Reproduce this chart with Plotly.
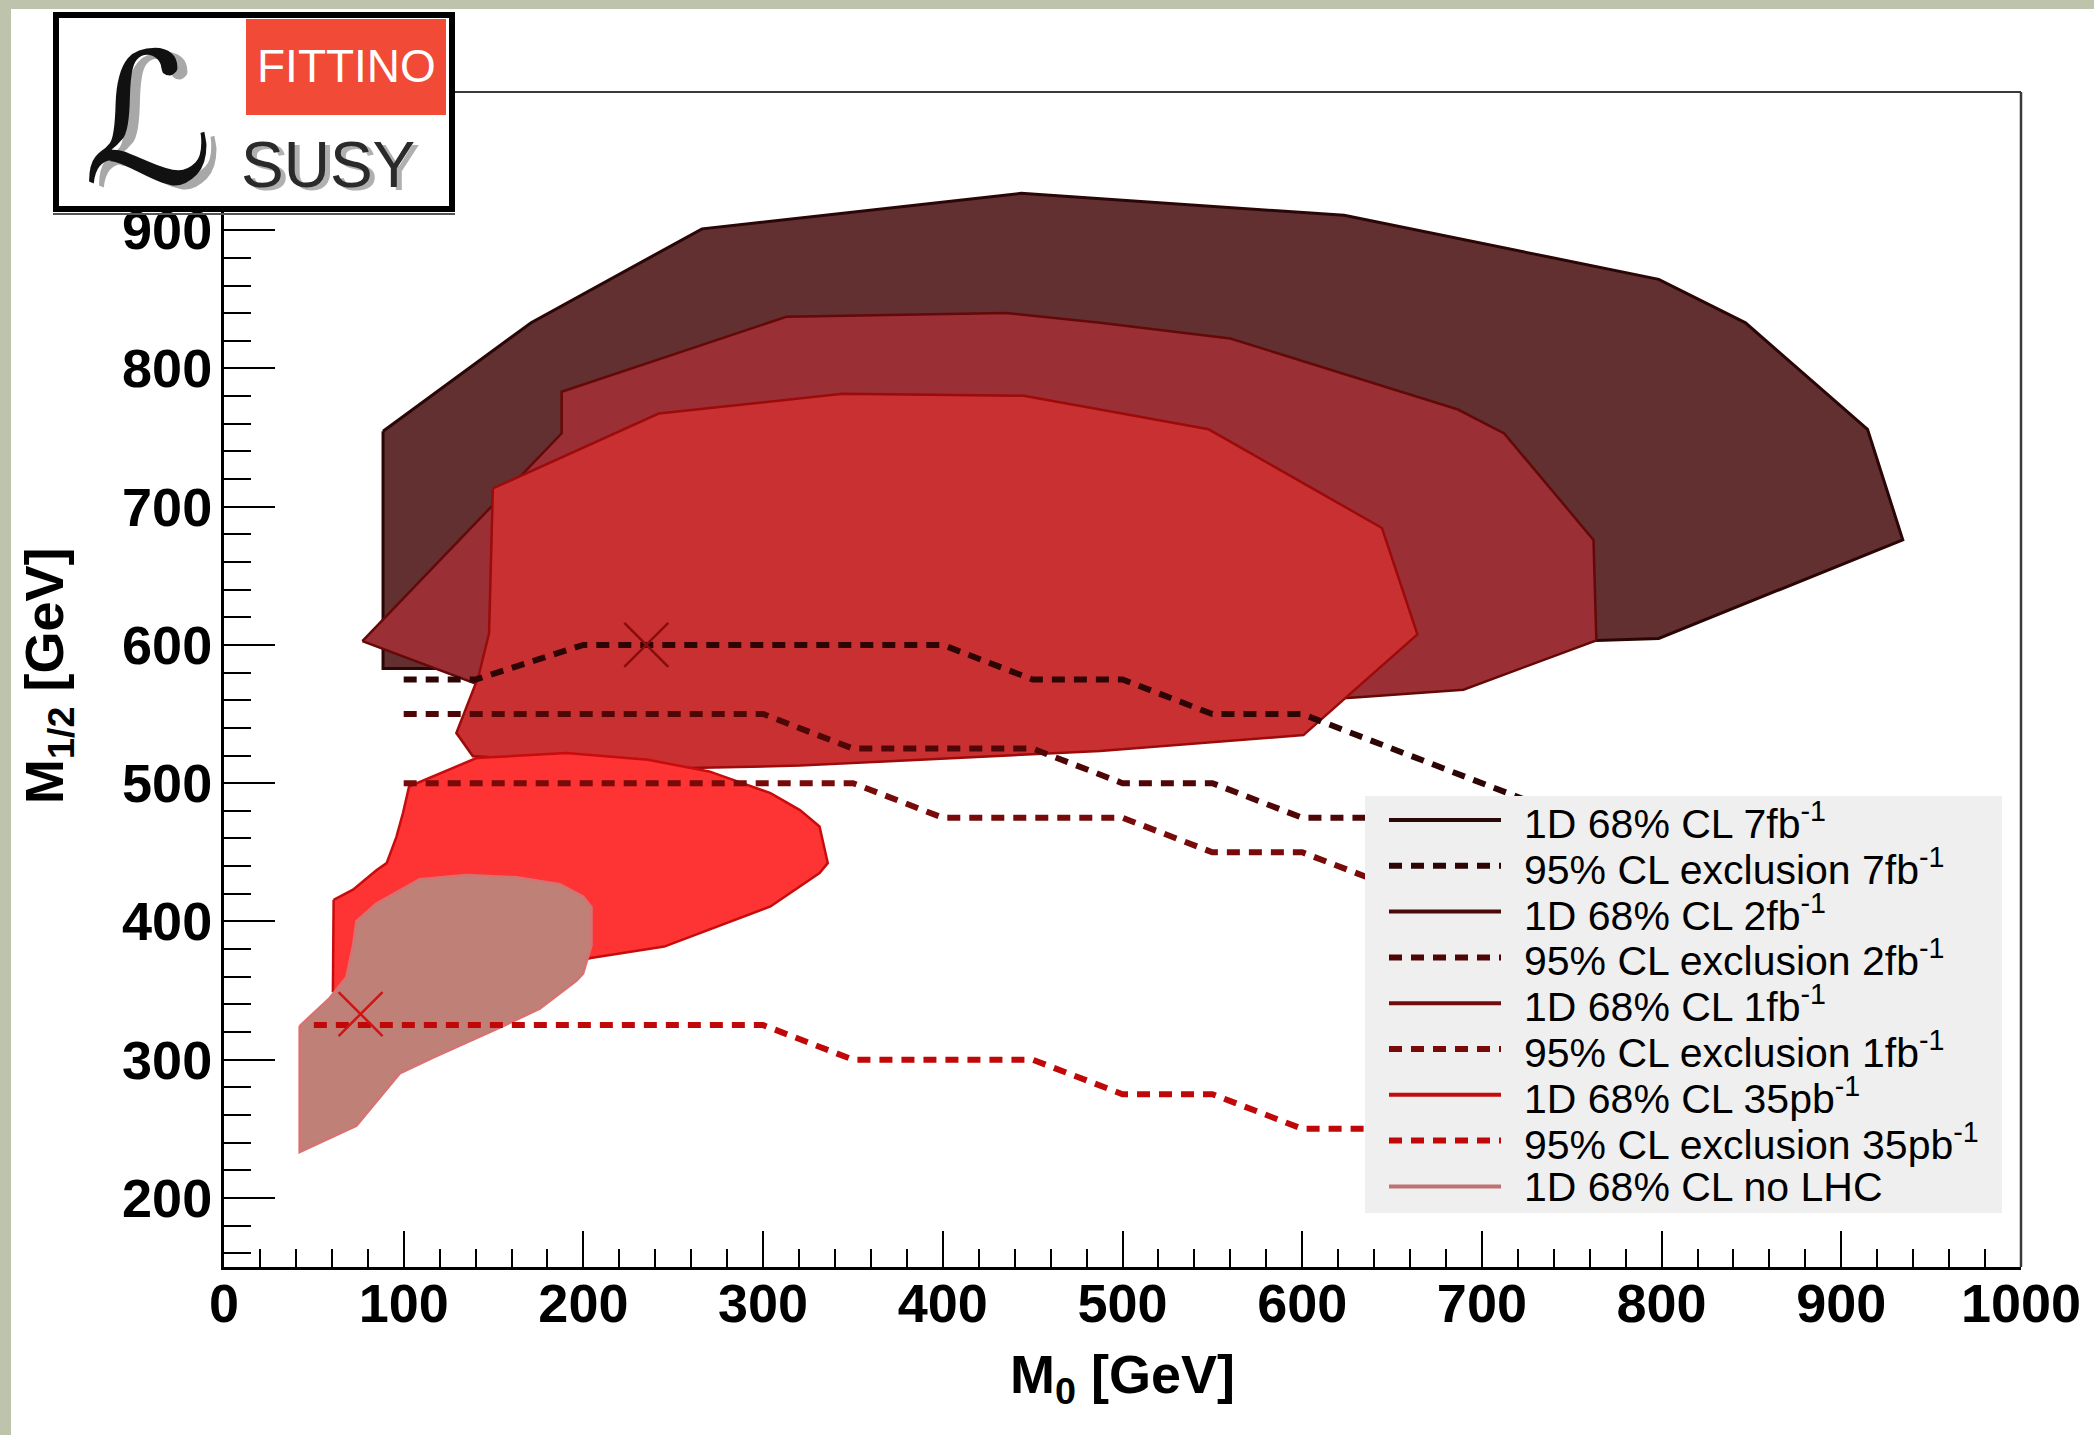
import plotly.graph_objects as go

# ---------------- data (M0, M1/2 in GeV) ----------------
cl68_7fb_m0 = [88.5, 88.5, 140, 400, 640, 700, 763.7, 798.4, 934.2, 914.6, 846.7, 798.4, 623.3, 487.5, 443.6, 266.0, 170.9]
cl68_7fb_m12 = [754.6, 583, 583, 580, 575, 590, 603.3, 604.7, 676.0, 756.0, 833.0, 864.5, 910.8, 923.0, 926.7, 901.0, 833.1]

cl68_2fb_m0 = [77.0, 187.9, 187.9, 312.9, 435.1, 487.5, 560.0, 686.7, 712.4, 762.1, 763.7, 689.7, 629.3, 400, 160, 140.0]
cl68_2fb_m12 = [602.8, 753.1, 783.2, 837.4, 840.2, 833.0, 821.7, 770.3, 753.0, 676.0, 603.3, 567.6, 561.9, 545, 545, 572.0]

cl68_1fb_m0 = [149.6, 241.9, 344.2, 445.0, 487.5, 547.9, 644.4, 664.1, 600.7, 487.5, 320.5, 258.7, 138.5, 129.3, 141.6, 147.5]
cl68_1fb_m12 = [713.2, 767.4, 781.7, 780.3, 770.3, 756.0, 684.6, 607.6, 534.8, 523.3, 512.7, 511.0, 519.5, 536.3, 577.2, 608.5]

cl68_35pb_m0 = [61.0, 71.8, 84.8, 90.5, 95.9, 99.6, 103.0, 140.5, 190.5, 236.0, 270.0, 304.1, 320.5, 331.4, 336.0, 331.4, 304.1, 245.0, 204.1, 120, 60.6]
cl68_35pb_m12 = [415.6, 423.0, 437.0, 442.2, 461.0, 478.4, 497.6, 518.2, 521.8, 516.9, 508.5, 492.8, 480.5, 468.7, 442.2, 435.0, 410.8, 381.8, 373.5, 345, 349.6]

cl68_nolhc_m0 = [42.1, 42.1, 73.7, 97.8, 116.3, 155.3, 175.7, 196.2, 199.8, 204.5, 204.5, 199.8, 186.9, 162.7, 134.9, 108.9, 84.8, 73.7, 71.8, 68.1, 58.8, 51.4]
cl68_nolhc_m12 = [324.3, 233.1, 252.1, 290.1, 301.4, 324.3, 336.9, 357.2, 362.2, 382.5, 410.4, 418.0, 426.9, 431.9, 433.6, 430.6, 412.9, 400.2, 382.5, 359.7, 344.5, 335.7]

excl_7fb_m0 = [100, 140, 200, 400, 450, 500, 550, 600, 750]
excl_7fb_m12 = [575, 575, 600, 600, 575, 575, 550, 550, 475]
excl_2fb_m0 = [100, 300, 350, 450, 500, 550, 600, 700]
excl_2fb_m12 = [550, 550, 525, 525, 500, 500, 475, 475]
excl_1fb_m0 = [100, 350, 400, 500, 550, 600, 650, 700]
excl_1fb_m12 = [500, 500, 475, 475, 450, 450, 425, 425]
excl_35pb_m0 = [50, 300, 350, 450, 500, 550, 600, 700]
excl_35pb_m12 = [325, 325, 300, 300, 275, 275, 250, 250]

bestfit_lhc = (235, 600)
bestfit_nolhc = (76, 333)

x_ticks = [0, 100, 200, 300, 400, 500, 600, 700, 800, 900, 1000]
y_ticks = [200, 300, 400, 500, 600, 700, 800, 900, 1000]

legend_labels = [
    "1D 68% CL 7fb<sup>-1</sup>",
    "95% CL exclusion 7fb<sup>-1</sup>",
    "1D 68% CL 2fb<sup>-1</sup>",
    "95% CL exclusion 2fb<sup>-1</sup>",
    "1D 68% CL 1fb<sup>-1</sup>",
    "95% CL exclusion 1fb<sup>-1</sup>",
    "1D 68% CL 35pb<sup>-1</sup>",
    "95% CL exclusion 35pb<sup>-1</sup>",
    "1D 68% CL no LHC",
]

# ---------------- styles ----------------
W, H = 2094, 1435
ML, MR, MT, MB = 224, 73, 92, 168
FONT = "Liberation Sans, Arial, Helvetica, sans-serif"


def px(X):
    return (X - ML) / (W - ML - MR)


def py(Y):
    return (H - MB - Y) / (H - MT - MB)


regions = [
    (cl68_7fb_m0, cl68_7fb_m12, "#633031", "#2a0606", 3),
    (cl68_2fb_m0, cl68_2fb_m12, "#9a3035", "#640808", 2.5),
    (cl68_1fb_m0, cl68_1fb_m12, "#c93032", "#9c0a0a", 2.5),
    (cl68_35pb_m0, cl68_35pb_m12, "#fe3333", "#c80c0c", 2.5),
    (cl68_nolhc_m0, cl68_nolhc_m12, "#bf8078", "#d67272", 2.5),
]
excls = [
    (excl_7fb_m0, excl_7fb_m12, "#2e0505"),
    (excl_2fb_m0, excl_2fb_m12, "#4e0606"),
    (excl_1fb_m0, excl_1fb_m12, "#780a0a"),
    (excl_35pb_m0, excl_35pb_m12, "#c00808"),
]
DASH = "13px,9px"

fig = go.Figure()
for xs, ys, fill, edge, lw in regions:
    fig.add_trace(go.Scatter(
        x=xs + [xs[0]], y=ys + [ys[0]], mode="lines", fill="toself",
        fillcolor=fill, line=dict(color=edge, width=lw), showlegend=False,
        hoverinfo="skip"))
for xs, ys, col in excls:
    fig.add_trace(go.Scatter(
        x=xs, y=ys, mode="lines", line=dict(color=col, width=6, dash=DASH),
        showlegend=False, hoverinfo="skip"))
fig.add_trace(go.Scatter(
    x=[bestfit_lhc[0]], y=[bestfit_lhc[1]], mode="markers",
    marker=dict(symbol="x-thin", size=44, line=dict(width=2.5, color="#8a0c0c")),
    showlegend=False, hoverinfo="skip"))
fig.add_trace(go.Scatter(
    x=[bestfit_nolhc[0]], y=[bestfit_nolhc[1]], mode="markers",
    marker=dict(symbol="x-thin", size=44, line=dict(width=2.5, color="#d01414")),
    showlegend=False, hoverinfo="skip"))

shapes = []
annotations = []
# slide background strips
shapes.append(dict(type="rect", xref="paper", yref="paper", x0=px(0), x1=px(11), y0=py(H), y1=py(0),
                   fillcolor="#bec4ab", line=dict(width=0), layer="below"))
shapes.append(dict(type="rect", xref="paper", yref="paper", x0=px(0), x1=px(W), y0=py(9), y1=py(0),
                   fillcolor="#bec4ab", line=dict(width=0), layer="below"))
# frame top & right
shapes.append(dict(type="line", xref="paper", yref="paper", x0=0, x1=1, y0=1, y1=1,
                   line=dict(color="#3a3a3a", width=2), layer="below"))
shapes.append(dict(type="line", xref="paper", yref="paper", x0=1, x1=1, y0=0, y1=1,
                   line=dict(color="#3a3a3a", width=2.5), layer="below"))

# legend (drawn manually, ROOT-style)
LX0, LX1, LY0, LY1 = 1365, 2002, 796, 1213
shapes.append(dict(type="rect", xref="paper", yref="paper", x0=px(LX0), x1=px(LX1), y0=py(LY1), y1=py(LY0),
                   fillcolor="#efefef", line=dict(width=0), layer="above"))
leg_styles = [
    ("#2a0808", None), ("#2e0505", DASH),
    ("#4a0a0a", None), ("#4e0606", DASH),
    ("#720c0c", None), ("#780a0a", DASH),
    ("#c40c0c", None), ("#c00808", DASH),
    ("#c07272", None),
]
for i, (lab, (col, dash)) in enumerate(zip(legend_labels, leg_styles)):
    yrow = 820 + 45.8 * i
    ln = dict(color=col, width=6 if dash else 4)
    if dash:
        ln["dash"] = dash
    shapes.append(dict(type="line", xref="paper", yref="paper", x0=px(1389), x1=px(1501),
                       y0=py(yrow), y1=py(yrow), line=ln, layer="above"))
    annotations.append(dict(xref="paper", yref="paper", x=px(1522), y=py(yrow + 1), text=lab,
                            showarrow=False, xanchor="left", yanchor="middle",
                            font=dict(family=FONT, size=41, color="black")))

# logo
shapes.append(dict(type="rect", xref="paper", yref="paper", x0=px(56), x1=px(452), y0=py(209), y1=py(15),
                   fillcolor="white", line=dict(color="black", width=6), layer="above"))
shapes.append(dict(type="line", xref="paper", yref="paper", x0=px(53), x1=px(455), y0=py(214), y1=py(214),
                   line=dict(color="#555555", width=2), layer="above"))
shapes.append(dict(type="rect", xref="paper", yref="paper", x0=px(246), x1=px(446), y0=py(115), y1=py(19),
                   fillcolor="#f14a36", line=dict(width=0), layer="above"))
annotations.append(dict(xref="paper", yref="paper", x=px(346), y=py(66), text="FITTINO", showarrow=False,
                        xanchor="center", yanchor="middle",
                        font=dict(family=FONT, size=46, color="white")))
annotations.append(dict(xref="paper", yref="paper", x=px(333), y=py(168), text="SUSY", showarrow=False,
                        xanchor="center", yanchor="middle",
                        font=dict(family=FONT, size=64, color="#b0b0b0")))
annotations.append(dict(xref="paper", yref="paper", x=px(328), y=py(165), text="SUSY", showarrow=False,
                        xanchor="center", yanchor="middle",
                        font=dict(family=FONT, size=64, color="#2a2a2a")))
annotations.append(dict(xref="paper", yref="paper", x=px(158), y=py(124), text="ℒ", showarrow=False,
                        xanchor="center", yanchor="middle",
                        font=dict(family="DejaVu Serif, DejaVu Sans", size=182, color="#a8a8a8")))
annotations.append(dict(xref="paper", yref="paper", x=px(148), y=py(120), text="ℒ", showarrow=False,
                        xanchor="center", yanchor="middle",
                        font=dict(family="DejaVu Serif, DejaVu Sans", size=182, color="#111111")))

axis_font = dict(family=FONT, size=54, color="black", weight="bold")

# y-axis title (placed explicitly)
annotations.append(dict(xref="paper", yref="paper", x=px(48), y=py(676), text="M<sub>1/2</sub> [GeV]",
                        textangle=-90, showarrow=False, xanchor="center", yanchor="middle",
                        font=axis_font))

fig.update_layout(
    width=W, height=H,
    margin=dict(l=ML, r=MR, t=MT, b=MB, pad=0),
    paper_bgcolor="white", plot_bgcolor="white",
    showlegend=False,
    shapes=shapes, annotations=annotations,
    xaxis=dict(
        range=[0, 1000], tickvals=x_ticks, ticktext=[str(v) for v in x_ticks],
        ticks="inside", ticklen=36, tickwidth=2, tickcolor="black",
        minor=dict(ticks="inside", ticklen=18, dtick=20, tick0=0, tickwidth=2, tickcolor="black"),
        showline=True, linecolor="black", linewidth=3, mirror=False, automargin=False,
        showgrid=False, zeroline=False, tickfont=axis_font, ticklabelstandoff=-13,
        title=dict(text="M<sub>0</sub> [GeV]", font=axis_font, standoff=24),
    ),
    yaxis=dict(
        range=[150, 1000], tickvals=y_ticks, ticktext=[str(v) for v in y_ticks],
        ticks="inside", ticklen=51, tickwidth=2, tickcolor="black",
        minor=dict(ticks="inside", ticklen=27, dtick=20, tick0=0, tickwidth=2, tickcolor="black"),
        showline=True, linecolor="black", linewidth=3, mirror=False, automargin=False,
        showgrid=False, zeroline=False, tickfont=axis_font, ticklabelstandoff=-2,
    ),
)

fig.write_html("out.html")
